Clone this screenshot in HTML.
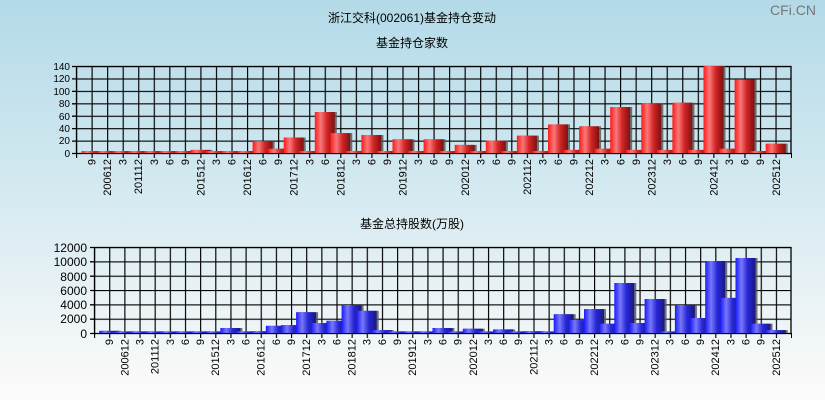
<!DOCTYPE html>
<html><head><meta charset="utf-8"><style>
body{margin:0;width:825px;height:400px;overflow:hidden;font-family:"Liberation Sans","Noto Sans CJK SC",sans-serif;}
svg text{font-family:"Liberation Sans","Noto Sans CJK SC",sans-serif;}
</style></head><body>
<svg width="825" height="400" viewBox="0 0 825 400" xmlns="http://www.w3.org/2000/svg">
<defs>
<linearGradient id="bg" x1="0" y1="0" x2="0" y2="1"><stop offset="0" stop-color="#b3dae8"/><stop offset="0.5" stop-color="#d6eaf1"/><stop offset="1" stop-color="#fdfbfa"/></linearGradient>
<linearGradient id="red" x1="0" y1="0" x2="1" y2="0"><stop offset="0" stop-color="#ff1a1a"/><stop offset="0.3" stop-color="#f87878"/><stop offset="0.6" stop-color="#d42626"/><stop offset="1" stop-color="#7a1010"/></linearGradient>
<linearGradient id="blue" x1="0" y1="0" x2="1" y2="0"><stop offset="0" stop-color="#1a1aff"/><stop offset="0.3" stop-color="#7878fa"/><stop offset="0.6" stop-color="#2828d8"/><stop offset="1" stop-color="#181880"/></linearGradient>
<pattern id="g1" x="76" y="66" width="15.5435" height="12.4286" patternUnits="userSpaceOnUse"><path d="M0.5 0V12.43M0 0.5H15.6" stroke="#000" stroke-width="1.3" fill="none"/></pattern>
<pattern id="g2" x="94" y="247" width="15.1522" height="14.3333" patternUnits="userSpaceOnUse"><path d="M0.5 0V14.4M0 0.5H15.2" stroke="#000" stroke-width="1.3" fill="none"/></pattern>
<pattern id="t1" x="76" y="0" width="15.5435" height="10" patternUnits="userSpaceOnUse"><path d="M0.5 0V10" stroke="#000" stroke-width="1.3"/></pattern>
<pattern id="t2" x="94" y="0" width="15.1522" height="10" patternUnits="userSpaceOnUse"><path d="M0.5 0V10" stroke="#000" stroke-width="1.3"/></pattern>
<filter id="sh" x="-10%" y="-10%" width="130%" height="130%"><feDropShadow dx="2" dy="0" stdDeviation="0.3" flood-color="#555" flood-opacity="0.8"/></filter>
</defs>
<rect width="825" height="400" fill="url(#bg)"/>
<text x="793" y="15" font-size="14" fill="#777" text-anchor="middle">CFi.CN</text>
<text x="412" y="22" font-size="12" text-anchor="middle" fill="#000">浙江交科(002061)基金持仓变动</text>
<text x="412" y="47" font-size="12" text-anchor="middle" fill="#000">基金持仓家数</text>
<text x="412" y="228" font-size="12" text-anchor="middle" fill="#000">基金总持股数(万股)</text>

<!-- top chart grid -->
<rect x="76" y="66" width="715" height="87" fill="url(#g1)"/>
<rect x="76.5" y="66.5" width="714.5" height="87" fill="none" stroke="#000" stroke-width="1.3"/>
<rect x="76" y="153" width="716" height="5" fill="url(#t1)"/>
<g stroke="#000" stroke-width="1.3"><path d="M72 66.5H76M72 78.9H76M72 91.4H76M72 103.8H76M72 116.2H76M72 128.6H76M72 141.1H76M72 153.5H76"/></g>
<g font-size="10" text-anchor="end" fill="#000">
<text x="70" y="70">140</text><text x="70" y="82">120</text><text x="70" y="95">100</text><text x="70" y="107">80</text><text x="70" y="120">60</text><text x="70" y="132">40</text><text x="70" y="144">20</text><text x="70" y="157">0</text>
</g>
<g transform="translate(76,153)" filter="url(#sh)" fill="url(#red)">
<rect x="5.5" y="-2" width="20" height="2"/><rect x="21.1" y="-2" width="20" height="2"/><rect x="36.6" y="-2" width="20" height="2"/><rect x="52.2" y="-2" width="20" height="2"/><rect x="67.7" y="-2" width="20" height="2"/><rect x="83.3" y="-2" width="20" height="2"/><rect x="98.8" y="-2" width="20" height="2"/><rect x="114.4" y="-3.1" width="20" height="3.1"/><rect x="129.9" y="-2" width="20" height="2"/><rect x="145.5" y="-2" width="20" height="2"/><rect x="161" y="-2" width="20" height="2"/><rect x="176.6" y="-11.8" width="20" height="11.8"/><rect x="192.1" y="-4.3" width="20" height="4.3"/><rect x="207.7" y="-15.5" width="20" height="15.5"/><rect x="223.2" y="-2" width="20" height="2"/><rect x="238.8" y="-41" width="20" height="41"/><rect x="254.3" y="-19.9" width="20" height="19.9"/><rect x="269.9" y="-2" width="20" height="2"/><rect x="285.4" y="-18" width="20" height="18"/><rect x="301" y="-2" width="20" height="2"/><rect x="316.5" y="-13.7" width="20" height="13.7"/><rect x="332.1" y="-2" width="20" height="2"/><rect x="347.6" y="-13.7" width="20" height="13.7"/><rect x="363.2" y="-2" width="20" height="2"/><rect x="378.7" y="-8.1" width="20" height="8.1"/><rect x="394.3" y="-2" width="20" height="2"/><rect x="409.8" y="-12.4" width="20" height="12.4"/><rect x="425.4" y="-2" width="20" height="2"/><rect x="440.9" y="-17.4" width="20" height="17.4"/><rect x="456.5" y="-2" width="20" height="2"/><rect x="472" y="-28.6" width="20" height="28.6"/><rect x="487.6" y="-3.1" width="20" height="3.1"/><rect x="503.1" y="-26.7" width="20" height="26.7"/><rect x="518.7" y="-4.3" width="20" height="4.3"/><rect x="534.2" y="-46" width="20" height="46"/><rect x="549.8" y="-3.1" width="20" height="3.1"/><rect x="565.3" y="-49.7" width="20" height="49.7"/><rect x="580.9" y="-3.1" width="20" height="3.1"/><rect x="596.4" y="-50.3" width="20" height="50.3"/><rect x="612" y="-3.1" width="20" height="3.1"/><rect x="627.5" y="-87" width="20" height="87"/><rect x="643.1" y="-4.3" width="20" height="4.3"/><rect x="658.6" y="-73.5" width="20" height="73.5"/><rect x="674.2" y="-2" width="20" height="2"/><rect x="689.7" y="-9.3" width="20" height="9.3"/>
</g>
<g font-size="11" text-anchor="end" fill="#000">
<text transform="translate(95.6,159) rotate(-90)">9</text><text transform="translate(111.1,159) rotate(-90)">200612</text><text transform="translate(126.7,159) rotate(-90)">3</text><text transform="translate(142.2,159) rotate(-90)">201112</text><text transform="translate(157.8,159) rotate(-90)">3</text><text transform="translate(173.3,159) rotate(-90)">6</text><text transform="translate(188.9,159) rotate(-90)">9</text><text transform="translate(204.4,159) rotate(-90)">201512</text><text transform="translate(220,159) rotate(-90)">3</text><text transform="translate(235.5,159) rotate(-90)">6</text><text transform="translate(251.1,159) rotate(-90)">201612</text><text transform="translate(266.6,159) rotate(-90)">6</text><text transform="translate(282.2,159) rotate(-90)">9</text><text transform="translate(297.7,159) rotate(-90)">201712</text><text transform="translate(313.3,159) rotate(-90)">3</text><text transform="translate(328.8,159) rotate(-90)">6</text><text transform="translate(344.4,159) rotate(-90)">201812</text><text transform="translate(359.9,159) rotate(-90)">3</text><text transform="translate(375.5,159) rotate(-90)">6</text><text transform="translate(391,159) rotate(-90)">9</text><text transform="translate(406.6,159) rotate(-90)">201912</text><text transform="translate(422.1,159) rotate(-90)">3</text><text transform="translate(437.7,159) rotate(-90)">6</text><text transform="translate(453.2,159) rotate(-90)">9</text><text transform="translate(468.8,159) rotate(-90)">202012</text><text transform="translate(484.3,159) rotate(-90)">3</text><text transform="translate(499.9,159) rotate(-90)">6</text><text transform="translate(515.4,159) rotate(-90)">9</text><text transform="translate(531,159) rotate(-90)">202112</text><text transform="translate(546.5,159) rotate(-90)">3</text><text transform="translate(562.1,159) rotate(-90)">6</text><text transform="translate(577.6,159) rotate(-90)">9</text><text transform="translate(593.2,159) rotate(-90)">202212</text><text transform="translate(608.7,159) rotate(-90)">3</text><text transform="translate(624.3,159) rotate(-90)">6</text><text transform="translate(639.8,159) rotate(-90)">9</text><text transform="translate(655.4,159) rotate(-90)">202312</text><text transform="translate(670.9,159) rotate(-90)">3</text><text transform="translate(686.5,159) rotate(-90)">6</text><text transform="translate(702,159) rotate(-90)">9</text><text transform="translate(717.6,159) rotate(-90)">202412</text><text transform="translate(733.1,159) rotate(-90)">3</text><text transform="translate(748.7,159) rotate(-90)">6</text><text transform="translate(764.2,159) rotate(-90)">9</text><text transform="translate(779.8,159) rotate(-90)">202512</text>
</g>

<!-- bottom chart -->
<rect x="94" y="247" width="697" height="86" fill="url(#g2)"/>
<rect x="94.5" y="247.5" width="696.5" height="86" fill="none" stroke="#000" stroke-width="1.3"/>
<rect x="94" y="333" width="698" height="5" fill="url(#t2)"/>
<g stroke="#000" stroke-width="1.3"><path d="M90 247.5H94M90 261.8H94M90 276.2H94M90 290.5H94M90 304.8H94M90 319.2H94M90 333.5H94"/></g>
<g font-size="12" text-anchor="end" fill="#000">
<text x="87" y="252">12000</text><text x="87" y="266">10000</text><text x="87" y="281">8000</text><text x="87" y="295">6000</text><text x="87" y="309">4000</text><text x="87" y="323">2000</text><text x="87" y="338">0</text>
</g>
<g transform="translate(94,333)" filter="url(#sh)" fill="url(#blue)">
<rect x="5.2" y="-2.2" width="20" height="2.2"/><rect x="20.3" y="-1.6" width="20" height="1.6"/><rect x="35.5" y="-1.6" width="20" height="1.6"/><rect x="50.6" y="-1.6" width="20" height="1.6"/><rect x="65.8" y="-1.6" width="20" height="1.6"/><rect x="80.9" y="-1.6" width="20" height="1.6"/><rect x="96.1" y="-1.6" width="20" height="1.6"/><rect x="111.2" y="-1.6" width="20" height="1.6"/><rect x="126.4" y="-5" width="20" height="5"/><rect x="141.5" y="-1.6" width="20" height="1.6"/><rect x="156.7" y="-1.8" width="20" height="1.8"/><rect x="171.8" y="-7.2" width="20" height="7.2"/><rect x="187" y="-7.9" width="20" height="7.9"/><rect x="202.1" y="-20.8" width="20" height="20.8"/><rect x="217.3" y="-10" width="20" height="10"/><rect x="232.4" y="-12.2" width="20" height="12.2"/><rect x="247.6" y="-28" width="20" height="28"/><rect x="262.7" y="-22.2" width="20" height="22.2"/><rect x="277.9" y="-2.9" width="20" height="2.9"/><rect x="293" y="-1.6" width="20" height="1.6"/><rect x="308.2" y="-1.6" width="20" height="1.6"/><rect x="323.3" y="-1.6" width="20" height="1.6"/><rect x="338.5" y="-5" width="20" height="5"/><rect x="353.6" y="-1.6" width="20" height="1.6"/><rect x="368.8" y="-4.3" width="20" height="4.3"/><rect x="383.9" y="-1.6" width="20" height="1.6"/><rect x="399.1" y="-3.6" width="20" height="3.6"/><rect x="414.2" y="-1.6" width="20" height="1.6"/><rect x="429.4" y="-1.8" width="20" height="1.8"/><rect x="444.5" y="-1.6" width="20" height="1.6"/><rect x="459.7" y="-18.8" width="20" height="18.8"/><rect x="474.8" y="-12.9" width="20" height="12.9"/><rect x="490" y="-23.9" width="20" height="23.9"/><rect x="505.1" y="-9.3" width="20" height="9.3"/><rect x="520.3" y="-50" width="20" height="50"/><rect x="535.4" y="-10" width="20" height="10"/><rect x="550.6" y="-34" width="20" height="34"/><rect x="565.7" y="-1.6" width="20" height="1.6"/><rect x="580.9" y="-28" width="20" height="28"/><rect x="596" y="-15" width="20" height="15"/><rect x="611.2" y="-72" width="20" height="72"/><rect x="626.3" y="-35.1" width="20" height="35.1"/><rect x="641.5" y="-75" width="20" height="75"/><rect x="656.6" y="-9.3" width="20" height="9.3"/><rect x="671.8" y="-2.9" width="20" height="2.9"/>
</g>
<g font-size="11" text-anchor="end" fill="#000">
<text transform="translate(113.2,339) rotate(-90)">9</text><text transform="translate(128.3,339) rotate(-90)">200612</text><text transform="translate(143.5,339) rotate(-90)">3</text><text transform="translate(158.6,339) rotate(-90)">201112</text><text transform="translate(173.8,339) rotate(-90)">3</text><text transform="translate(188.9,339) rotate(-90)">6</text><text transform="translate(204.1,339) rotate(-90)">9</text><text transform="translate(219.2,339) rotate(-90)">201512</text><text transform="translate(234.4,339) rotate(-90)">3</text><text transform="translate(249.5,339) rotate(-90)">6</text><text transform="translate(264.7,339) rotate(-90)">201612</text><text transform="translate(279.8,339) rotate(-90)">6</text><text transform="translate(295,339) rotate(-90)">9</text><text transform="translate(310.1,339) rotate(-90)">201712</text><text transform="translate(325.3,339) rotate(-90)">3</text><text transform="translate(340.4,339) rotate(-90)">6</text><text transform="translate(355.6,339) rotate(-90)">201812</text><text transform="translate(370.7,339) rotate(-90)">3</text><text transform="translate(385.9,339) rotate(-90)">6</text><text transform="translate(401,339) rotate(-90)">9</text><text transform="translate(416.2,339) rotate(-90)">201912</text><text transform="translate(431.3,339) rotate(-90)">3</text><text transform="translate(446.5,339) rotate(-90)">6</text><text transform="translate(461.6,339) rotate(-90)">9</text><text transform="translate(476.8,339) rotate(-90)">202012</text><text transform="translate(491.9,339) rotate(-90)">3</text><text transform="translate(507.1,339) rotate(-90)">6</text><text transform="translate(522.2,339) rotate(-90)">9</text><text transform="translate(537.4,339) rotate(-90)">202112</text><text transform="translate(552.5,339) rotate(-90)">3</text><text transform="translate(567.7,339) rotate(-90)">6</text><text transform="translate(582.8,339) rotate(-90)">9</text><text transform="translate(598,339) rotate(-90)">202212</text><text transform="translate(613.1,339) rotate(-90)">3</text><text transform="translate(628.3,339) rotate(-90)">6</text><text transform="translate(643.4,339) rotate(-90)">9</text><text transform="translate(658.6,339) rotate(-90)">202312</text><text transform="translate(673.7,339) rotate(-90)">3</text><text transform="translate(688.9,339) rotate(-90)">6</text><text transform="translate(704,339) rotate(-90)">9</text><text transform="translate(719.2,339) rotate(-90)">202412</text><text transform="translate(734.3,339) rotate(-90)">3</text><text transform="translate(749.5,339) rotate(-90)">6</text><text transform="translate(764.6,339) rotate(-90)">9</text><text transform="translate(779.8,339) rotate(-90)">202512</text>
</g>
</svg>
</body></html>
